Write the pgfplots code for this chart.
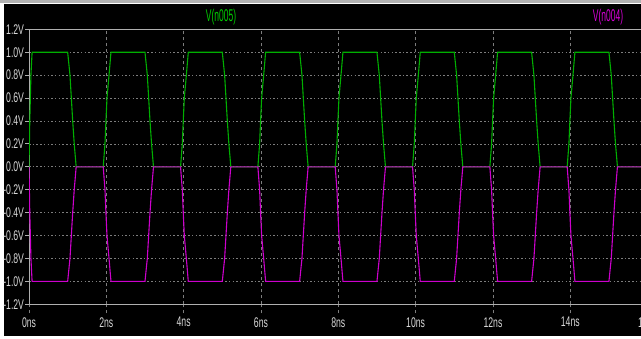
\documentclass[border=0pt]{standalone}
\usepackage{fontspec}
\setmainfont{Liberation Sans}[FakeStretch=0.62]
\newfontfamily\legfont{Liberation Sans}[FakeStretch=0.5]
\usepackage{pgfplots}
\pgfplotsset{compat=1.18}
\definecolor{trgreen}{RGB}{0,175,0}
\definecolor{lbgreen}{RGB}{0,205,0}
\definecolor{trmag}{RGB}{205,0,205}
\definecolor{lbmag}{RGB}{215,0,215}
\definecolor{gridgray}{RGB}{125,125,125}
\definecolor{axgray}{RGB}{175,175,175}
\definecolor{txtgray}{RGB}{215,215,215}
\pgfplotstableread{
t v
0 0
0.02 0.4
0.05 0.8
0.08 1
1.0 1
1.06 0.8
1.095 0.6
1.13 0.4
1.17 0.2
1.22 0
1.92 0
1.965 0.2
1.99 0.4
2.017 0.6
2.07 0.8
2.12 1
3.0 1
3.06 0.8
3.095 0.6
3.13 0.4
3.17 0.2
3.22 0
3.92 0
3.965 0.2
3.99 0.4
4.017 0.6
4.07 0.8
4.12 1
5.0 1
5.06 0.8
5.095 0.6
5.13 0.4
5.17 0.2
5.22 0
5.92 0
5.965 0.2
5.99 0.4
6.017 0.6
6.07 0.8
6.12 1
7.0 1
7.06 0.8
7.095 0.6
7.13 0.4
7.17 0.2
7.22 0
7.92 0
7.965 0.2
7.99 0.4
8.017 0.6
8.07 0.8
8.12 1
9.0 1
9.06 0.8
9.095 0.6
9.13 0.4
9.17 0.2
9.22 0
9.92 0
9.965 0.2
9.99 0.4
10.017 0.6
10.07 0.8
10.12 1
11.0 1
11.06 0.8
11.095 0.6
11.13 0.4
11.17 0.2
11.22 0
11.92 0
11.965 0.2
11.99 0.4
12.017 0.6
12.07 0.8
12.12 1
13.0 1
13.06 0.8
13.095 0.6
13.13 0.4
13.17 0.2
13.22 0
13.92 0
13.965 0.2
13.99 0.4
14.017 0.6
14.07 0.8
14.12 1
15.0 1
15.06 0.8
15.095 0.6
15.13 0.4
15.17 0.2
15.22 0
15.92 0
15.965 0.2
15.99 0.4
16.017 0.6
}\greendata
\pgfplotstableread{
t v
0 0
0.02 -0.4
0.05 -0.8
0.08 -1
1.0 -1
1.06 -0.8
1.095 -0.6
1.13 -0.4
1.17 -0.2
1.22 0
1.92 0
1.965 -0.2
1.99 -0.4
2.017 -0.6
2.07 -0.8
2.12 -1
3.0 -1
3.06 -0.8
3.095 -0.6
3.13 -0.4
3.17 -0.2
3.22 0
3.92 0
3.965 -0.2
3.99 -0.4
4.017 -0.6
4.07 -0.8
4.12 -1
5.0 -1
5.06 -0.8
5.095 -0.6
5.13 -0.4
5.17 -0.2
5.22 0
5.92 0
5.965 -0.2
5.99 -0.4
6.017 -0.6
6.07 -0.8
6.12 -1
7.0 -1
7.06 -0.8
7.095 -0.6
7.13 -0.4
7.17 -0.2
7.22 0
7.92 0
7.965 -0.2
7.99 -0.4
8.017 -0.6
8.07 -0.8
8.12 -1
9.0 -1
9.06 -0.8
9.095 -0.6
9.13 -0.4
9.17 -0.2
9.22 0
9.92 0
9.965 -0.2
9.99 -0.4
10.017 -0.6
10.07 -0.8
10.12 -1
11.0 -1
11.06 -0.8
11.095 -0.6
11.13 -0.4
11.17 -0.2
11.22 0
11.92 0
11.965 -0.2
11.99 -0.4
12.017 -0.6
12.07 -0.8
12.12 -1
13.0 -1
13.06 -0.8
13.095 -0.6
13.13 -0.4
13.17 -0.2
13.22 0
13.92 0
13.965 -0.2
13.99 -0.4
14.017 -0.6
14.07 -0.8
14.12 -1
15.0 -1
15.06 -0.8
15.095 -0.6
15.13 -0.4
15.17 -0.2
15.22 0
15.92 0
15.965 -0.2
15.99 -0.4
16.017 -0.6
}\magdata
\begin{document}
\begin{tikzpicture}
\useasboundingbox (-29pt,-33.7pt) rectangle (612pt,304.3pt);
\fill[white] (-29pt,-33.7pt) rectangle (612pt,304.3pt);
\fill[black] (-25pt,-31.7pt) rectangle (612pt,300.3pt);
\fill[gray!60] (-29pt,301.3pt) rectangle (612pt,304.3pt);
\begin{axis}[
  at={(0pt,0pt)}, anchor=south west,
  scale only axis, width=618.6pt, height=275pt,
  xmin=0, xmax=16, ymin=-1.2, ymax=1.2,
  axis line style={axgray, line width=0.8pt},
  xtick={0,2,...,16},
  xticklabels={0ns,2ns,4ns,6ns,8ns,10ns,12ns,14ns,16ns},
  ytick={-1.2,-1.0,...,1.21},
  yticklabels={-1.2V,-1.0V,-0.8V,-0.6V,-0.4V,-0.2V,0.0V,0.2V,0.4V,0.6V,0.8V,1.0V,1.2V},
  tick pos=left, tick align=outside,
  xtick style={gridgray, dash pattern=on 3pt off 3pt, line width=0.6pt, /pgfplots/major tick length=9pt},
  ytick style={axgray, line width=0.8pt, /pgfplots/major tick length=4pt},
  xmajorgrids, ymajorgrids,
  x grid style={gridgray, dash pattern=on 3pt off 3pt, line width=0.6pt},
  y grid style={gridgray, dash pattern=on 1.5pt off 2.2pt, line width=0.7pt},
  /pgf/number format/assume math mode=true,
  ticklabel style={font=\fontsize{14}{15}\selectfont, text=txtgray, inner sep=0pt},
  yticklabel style={anchor=east, xshift=-0.5pt},
  xticklabel style={anchor=north, yshift=-8.5pt},
]
\addplot[trgreen, line width=1.1pt] table[x=t,y=v] {\greendata};
\addplot[trmag, line width=1.1pt] table[x=t,y=v] {\magdata};
\end{axis}
\node[text=lbgreen, font=\legfont\fontsize{17}{18}\selectfont] at (192pt,286.8pt) {V(n005)};
\node[text=lbmag, font=\legfont\fontsize{17}{18}\selectfont] at (579pt,286.8pt) {V(n004)};
\end{tikzpicture}
\end{document}
